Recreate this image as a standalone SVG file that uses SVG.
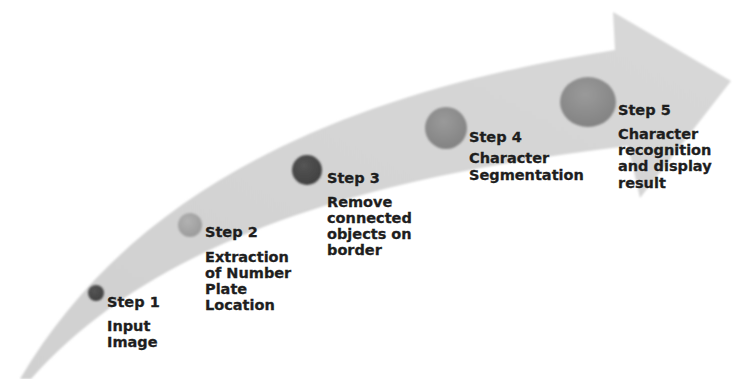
<svg xmlns="http://www.w3.org/2000/svg" width="736" height="379" viewBox="0 0 736 379">
  <defs>
    <style>
      .lbl { font-family: "DejaVu Sans", "Verdana", sans-serif; font-weight: bold; font-size: 14.5px; fill: #1e1e1e; stroke: #1e1e1e; stroke-width: 0.3px; }
      .band { fill: url(#bandFill); }
    </style>
    <linearGradient id="bandFill" x1="0" y1="1" x2="1" y2="0">
      <stop offset="0" stop-color="#d0d0d0"/>
      <stop offset="1" stop-color="#d8d8d8"/>
    </linearGradient>
    <radialGradient id="ballDark" cx="0.4" cy="0.35" r="0.7">
      <stop offset="0" stop-color="#555555"/>
      <stop offset="1" stop-color="#3f3f3f"/>
    </radialGradient>
    <radialGradient id="ballLight" cx="0.4" cy="0.35" r="0.7">
      <stop offset="0" stop-color="#b2b2b2"/>
      <stop offset="1" stop-color="#9a9a9a"/>
    </radialGradient>
    <radialGradient id="ballMid" cx="0.45" cy="0.35" r="0.7">
      <stop offset="0" stop-color="#9a9a9a"/>
      <stop offset="1" stop-color="#818181"/>
    </radialGradient>
    <filter id="soft" x="-20%" y="-20%" width="140%" height="140%">
      <feGaussianBlur stdDeviation="0.8"/>
    </filter>
  </defs>

  <rect width="736" height="379" fill="#ffffff"/>

  <!-- curved arrow carrying the steps -->
  <g id="connectors">
    <path class="band" filter="url(#soft)" d="M20,379 C135,184 348,92.5 615,50 L613,12 L731,81 L640,198 L628,146 C357,178 152.5,242.5 31,379 Z"/>
  </g>

  <g id="step1">
    <circle cx="96" cy="293" r="8" fill="url(#ballDark)" filter="url(#soft)"/>
    <text class="lbl" x="107" y="307">Step 1</text>
    <text class="lbl" x="107" y="331">Input</text>
    <text class="lbl" x="107" y="347">Image</text>
  </g>

  <g id="step2">
    <circle cx="190" cy="225" r="12" fill="url(#ballLight)" filter="url(#soft)"/>
    <text class="lbl" x="205" y="237">Step 2</text>
    <text class="lbl" x="205" y="262">Extraction</text>
    <text class="lbl" x="205" y="278">of Number</text>
    <text class="lbl" x="205" y="294">Plate</text>
    <text class="lbl" x="205" y="310">Location</text>
  </g>

  <g id="step3">
    <circle cx="307" cy="170" r="15" fill="url(#ballDark)" filter="url(#soft)"/>
    <text class="lbl" x="327" y="183">Step 3</text>
    <text class="lbl" x="327" y="207">Remove</text>
    <text class="lbl" x="327" y="223">connected</text>
    <text class="lbl" x="327" y="239">objects on</text>
    <text class="lbl" x="327" y="255">border</text>
  </g>

  <g id="step4">
    <circle cx="446" cy="128" r="21" fill="url(#ballMid)" filter="url(#soft)"/>
    <text class="lbl" x="469" y="142">Step 4</text>
    <text class="lbl" x="469" y="163">Character</text>
    <text class="lbl" x="469" y="180">Segmentation</text>
  </g>

  <g id="step5">
    <ellipse cx="588" cy="102" rx="28" ry="25" fill="url(#ballMid)" filter="url(#soft)"/>
    <text class="lbl" x="618" y="115">Step 5</text>
    <text class="lbl" x="618" y="139">Character</text>
    <text class="lbl" x="618" y="155">recognition</text>
    <text class="lbl" x="618" y="171">and display</text>
    <text class="lbl" x="618" y="188">result</text>
  </g>
</svg>
